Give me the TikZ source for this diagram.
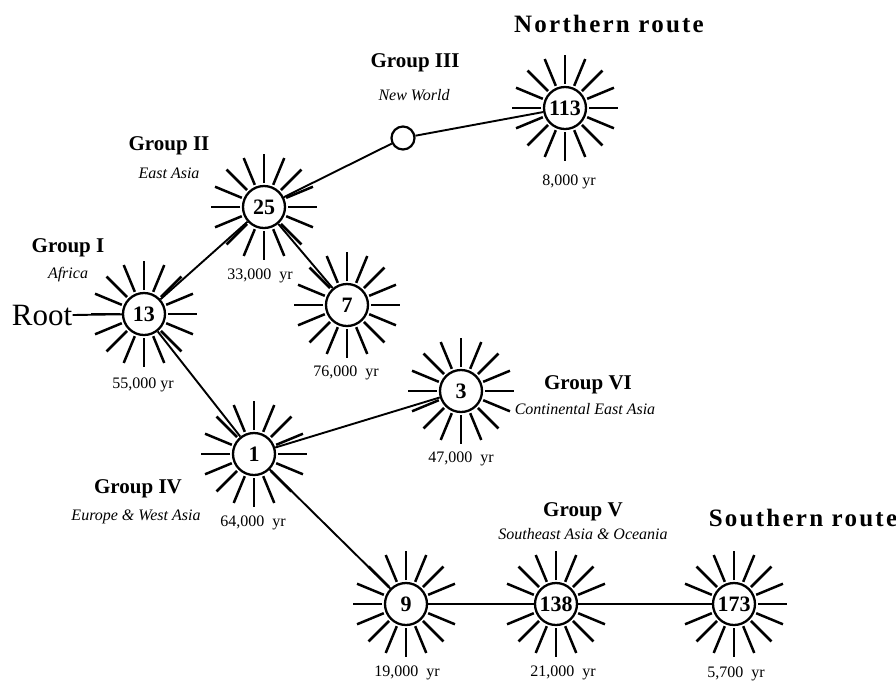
\documentclass[tikz,border=0pt]{standalone}
\usepackage{fontspec}
\setmainfont{Liberation Serif}
\begin{document}
\begin{tikzpicture}[x=0.5pt,y=-0.5pt,
  sun/.style={circle,draw,line width=1.15pt,fill=white,minimum size=21pt,inner sep=0pt,font=\bfseries\fontsize{11}{11}\selectfont},
  ray/.style={line width=1.25pt},
  edge/.style={line width=0.95pt},
  grp/.style={font=\bfseries\fontsize{10.5}{11}\selectfont,inner sep=0pt},
  sub/.style={font=\itshape\fontsize{8}{8}\selectfont,inner sep=0pt},
  age/.style={font=\fontsize{8}{8}\selectfont,inner sep=0pt},
  route/.style={font=\bfseries\fontsize{12.5}{13}\selectfont\addfontfeature{LetterSpace=9},inner sep=0pt}]
\useasboundingbox (0,0) rectangle (896,682);
% suns
\node[sun] (n13) at (144,314) {13};
\node[sun] (n25) at (264,207) {25};
\node[sun] (n7) at (347,305) {7};
\node[sun] (n1) at (254,454) {1};
\node[sun] (n3) at (461,391) {3};
\node[sun] (n113) at (565,108) {113};
\node[sun] (n9) at (406,604) {9};
\node[sun] (n138) at (556,604) {138};
\node[sun] (n173) at (734,604) {173};
\node[circle,draw,line width=1.1pt,fill=white,minimum size=11.5pt,inner sep=0pt] (n0) at (403,138) {};
\foreach \n in {n13,n25,n7,n1,n3,n113,n9,n138,n173}
  \foreach \a in {0,22.5,...,337.5}
    \draw[ray] (\n.center) ++(\a:24) -- ++(\a:29);
% root
\node[font=\fontsize{15.5}{16}\selectfont,inner sep=0pt] (root) at (42,315) {Root};
% edges
\draw[edge] (root.east) -- (n13);
\draw[edge] (n13) -- (n25);
\draw[edge] (n25) -- (n7);
\draw[edge] (n13) -- (n1);
\draw[edge] (n25) -- (n0);
\draw[edge] (n0) -- (n113);
\draw[edge] (n1) -- (n3);
\draw[edge] (n1) -- (n9);
\draw[edge] (n9) -- (n138);
\draw[edge] (n138) -- (n173);
% labels
\node[route] (tn) at (609,24) {Northern route};
\node[route] (ts) at (803,518) {Southern route};
\node[grp] (g1) at (68,248) {Group I};
\node[sub] (s1) at (68,275) {Africa};
\node[grp] (g2) at (169,146) {Group II};
\node[sub] (s2) at (169,173) {East Asia};
\node[grp] (g3) at (415,63) {Group III};
\node[sub] (s3) at (414,95) {New World};
\node[grp] (g4) at (138,489) {Group IV};
\node[sub] (s4) at (136,517) {Europe \& West Asia};
\node[grp] (g5) at (583,512) {Group V};
\node[sub] (s5) at (583,534) {Southeast Asia \& Oceania};
\node[grp] (g6) at (588,385) {Group VI};
\node[sub] (s6) at (585,409) {Continental East Asia};
\node[age] (a13) at (143,385) {55,000 yr};
\node[age] (a25) at (260,276) {33,000\ \ yr};
\node[age] (a7) at (346,373) {76,000\ \ yr};
\node[age] (a1) at (253,523) {64,000\ \ yr};
\node[age] (a3) at (461,459) {47,000\ \ yr};
\node[age] (a113) at (569,182) {8,000 yr};
\node[age] (a9) at (407,673) {19,000\ \ yr};
\node[age] (a138) at (563,673) {21,000\ \ yr};
\node[age] (a173) at (736,674) {5,700\ \ yr};
\end{tikzpicture}
\end{document}
